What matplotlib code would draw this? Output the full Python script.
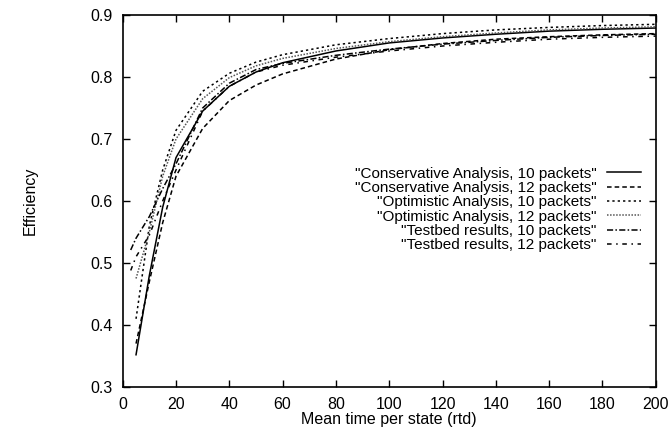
import matplotlib
matplotlib.use("Agg")
import matplotlib.pyplot as plt

plt.rcParams['font.family'] = ['Liberation Sans', 'DejaVu Sans']

# x positions (mean time per state, rtd)
x_analysis = [5, 10, 15, 20, 30, 40, 50, 60, 80, 100, 120, 140, 160, 180, 200]
x_testbed = [3, 5, 10, 15, 20, 30, 40, 50, 60, 80, 100, 120, 140, 160, 180, 200]

cons_10 = [0.352, 0.48, 0.59, 0.670, 0.745, 0.785, 0.808, 0.823, 0.842, 0.855, 0.863, 0.869, 0.874, 0.877, 0.879]
cons_12 = [0.370, 0.47, 0.565, 0.640, 0.717, 0.762, 0.787, 0.805, 0.829, 0.844, 0.854, 0.861, 0.865, 0.868, 0.870]
opt_10 = [0.410, 0.56, 0.65, 0.714, 0.777, 0.806, 0.824, 0.836, 0.852, 0.862, 0.870, 0.876, 0.880, 0.883, 0.885]
opt_12 = [0.475, 0.55, 0.64, 0.700, 0.765, 0.799, 0.818, 0.830, 0.846, 0.857, 0.865, 0.871, 0.876, 0.879, 0.881]
test_10 = [0.521, 0.54, 0.575, 0.62, 0.660, 0.750, 0.790, 0.812, 0.822, 0.835, 0.845, 0.853, 0.859, 0.864, 0.867, 0.869]
test_12 = [0.488, 0.51, 0.545, 0.60, 0.650, 0.745, 0.785, 0.808, 0.819, 0.832, 0.842, 0.850, 0.856, 0.861, 0.864, 0.866]

labels = ['"Conservative Analysis, 10 packets"',
          '"Conservative Analysis, 12 packets"',
          '"Optimistic Analysis, 10 packets"',
          '"Optimistic Analysis, 12 packets"',
          '"Testbed results, 10 packets"',
          '"Testbed results, 12 packets"']

fig = plt.figure(figsize=(6.68, 4.29), dpi=100)
ax = fig.add_axes([0.1837, 0.0979, 0.7979, 0.8671])

lw = 1.1
ax.plot(x_analysis, cons_10, color='black', lw=lw, ls='-', label=labels[0])
ax.plot(x_analysis, cons_12, color='black', lw=lw, ls=(0, (3, 2)), label=labels[1])
ax.plot(x_analysis, opt_10, color='black', lw=lw, ls=(0, (1.5, 2)), label=labels[2])
ax.plot(x_analysis, opt_12, color='#555555', lw=lw, ls=(0, (1, 1)), label=labels[3])
ax.plot(x_testbed, test_10, color='black', lw=lw, ls=(0, (4, 1.5, 1, 1.5)), label=labels[4])
ax.plot(x_testbed, test_12, color='black', lw=lw, ls=(0, (3, 3, 1, 3)), label=labels[5])

ax.set_xlim(0, 200)
ax.set_ylim(0.3, 0.9)
ax.set_xticks(range(0, 201, 20))
ax.set_yticks([0.3, 0.4, 0.5, 0.6, 0.7, 0.8, 0.9])
ax.tick_params(direction='in', top=True, right=True, length=5, width=1, labelsize=11.5, pad=7)
for s in ax.spines.values():
    s.set_linewidth(1.2)

ax.set_xlabel('Mean time per state (rtd)', fontsize=11.5, labelpad=0)
ax.set_ylabel('Efficiency', fontsize=11.5, labelpad=38)

leg = ax.legend(loc='center right', bbox_to_anchor=(0.972, 0.477), frameon=False,
                markerfirst=False, fontsize=11, handlelength=2.2, handletextpad=0.7,
                labelspacing=0.02, borderpad=0, borderaxespad=0)
for col in leg._legend_handle_box.get_children():
    col.align = 'right'

fig.savefig('out.png', dpi=100)
